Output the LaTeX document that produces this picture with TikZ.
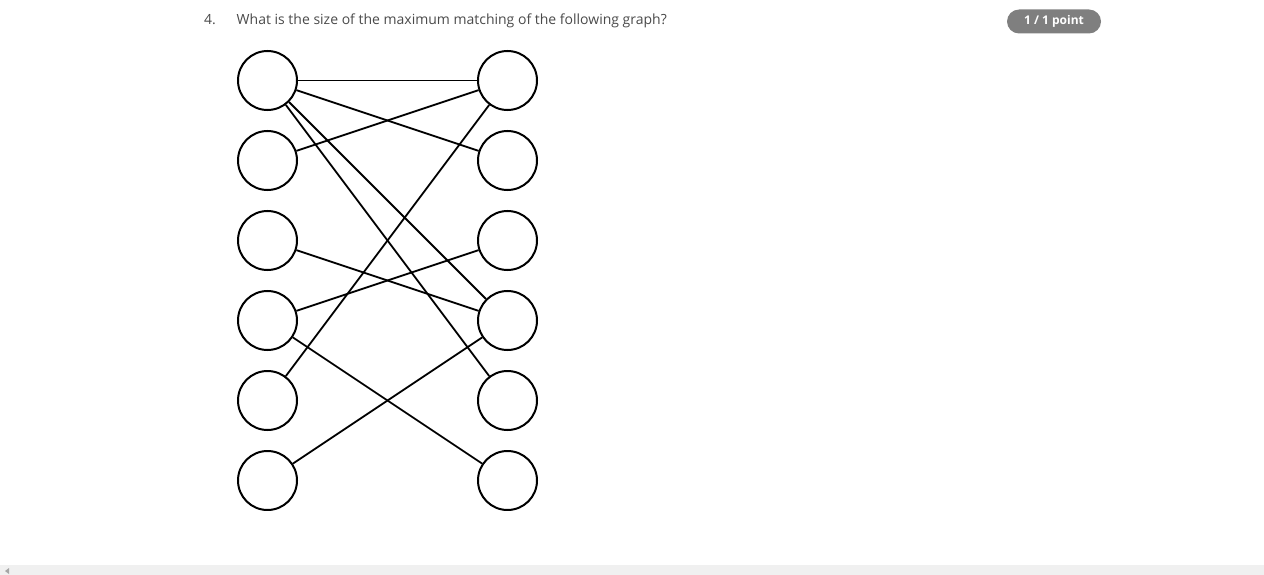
\documentclass[tikz,border=0pt]{standalone}
\usepackage{fontspec}
\setmainfont{Open Sans}
\definecolor{qtext}{HTML}{4A4A4A}
\definecolor{badgegray}{HTML}{7F7F7F}
\definecolor{barbg}{HTML}{F0F0F0}

\begin{document}
\begin{tikzpicture}[x=1pt, y=-1pt, node distance=80pt, every loop/.style={},
                    main node/.style={circle,draw,line width=2pt,inner sep=0pt,minimum size=59pt},
                    qlabel/.style={anchor=base west,inner sep=0pt,text=qtext,font=\fontsize{14}{17}\selectfont}]

  \useasboundingbox (0,0) rectangle (1264,575);
  \fill[barbg] (0,565) rectangle (1264,575);
  \fill[gray!70] (5,571) -- (9,568) -- (9,574) -- cycle;

  \node[qlabel] (num) at (204,24.5) {4.};
  \node[qlabel] (question) at (236.5,24.5) {What is the size of the maximum matching of the following graph?};
  \node[fill=badgegray,rounded corners=12pt,minimum width=94pt,minimum height=24pt,inner sep=0pt,
        text=white,font=\fontsize{12}{14}\selectfont\bfseries] (score) at (1054,21.5) {1 / 1 point};

  \begin{scope}
  \clip (0,0) rectangle (1264,510);
  \node[main node] (l1) at (267.5,80.5) {};
  \node[main node] (l2) [below of=l1] {};
  \node[main node] (l3) [below of=l2] {};
  \node[main node] (l4) [below of=l3] {};
  \node[main node] (l5) [below of=l4] {};
  \node[main node] (l6) [below of=l5] {};
  \node[main node] (r1) [right of=l1, node distance=240pt] {};
  \node[main node] (r2) [below of=r1] {};
  \node[main node] (r3) [below of=r2] {};
  \node[main node] (r4) [below of=r3] {};
  \node[main node] (r5) [below of=r4] {};
  \node[main node] (r6) [below of=r5] {};

\path[line width=1.8pt]
       (l1) edge (r1)
       (l1) edge (r2)
       (l1) edge (r4)
       (l1) edge (r5)
       (l2) edge (r1)
       (l5) edge (r1)
       (l3) edge (r4)
       (l4) edge (r3)
       (l4) edge (r6)
       (l6) edge (r4)
  ;
  \end{scope}

\end{tikzpicture}
\end{document}
